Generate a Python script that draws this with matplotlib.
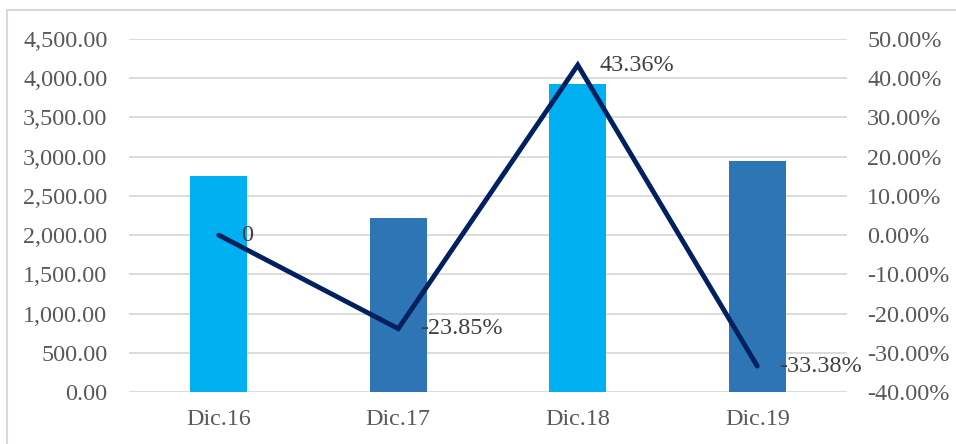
import matplotlib
matplotlib.use("Agg")
import matplotlib.pyplot as plt
from matplotlib.patches import Rectangle
from matplotlib.ticker import FuncFormatter, MultipleLocator

categories = ["Dic.16", "Dic.17", "Dic.18", "Dic.19"]
amounts = [2753, 2214, 3926, 2945]
growth_pct = [0.0, -23.85, 43.36, -33.38]
growth_labels = ["0", "-23.85%", "43.36%", "-33.38%"]
bar_colors = ["#00B0F0", "#2E75B6", "#00B0F0", "#2E75B6"]

plt.rcParams["font.family"] = ["Liberation Serif", "DejaVu Serif"]
FS = 17.4
TICK_COLOR = "#595959"
LABEL_COLOR = "#404040"
GRID_COLOR = "#D9D9D9"

fig = plt.figure(figsize=(9.56, 4.44), dpi=100)

# chart frame (top and left edges visible)
fig.patches.append(Rectangle((7 / 956, -0.1), 1.2, 1 - 10 / 444 + 0.1,
                             transform=fig.transFigure, fill=False,
                             edgecolor="#D9D9D9", linewidth=1.5))

ax = fig.add_axes([129 / 956, 1 - 392 / 444, (847 - 129) / 956, (392 - 39) / 444])
x = range(len(categories))
ax.bar(x, amounts, width=0.32, color=bar_colors, zorder=2)
ax.set_xlim(-0.5, len(categories) - 0.5)
ax.set_ylim(0, 4500)
ax.yaxis.set_major_locator(MultipleLocator(500))
ax.yaxis.set_major_formatter(FuncFormatter(lambda v, p: f"{v:,.2f}"))
ax.set_xticks(list(x))
ax.set_xticklabels(categories)
ax.grid(axis="y", color=GRID_COLOR, linewidth=1.3, zorder=0)
ax.set_axisbelow(True)
for s in ax.spines.values():
    s.set_visible(False)
ax.tick_params(axis="y", length=0, pad=15.5, labelsize=FS, labelcolor=TICK_COLOR)
ax.tick_params(axis="x", length=0, pad=12, labelsize=FS, labelcolor=TICK_COLOR)

ax2 = ax.twinx()
ax2.set_ylim(-40, 50)
ax2.yaxis.set_major_locator(MultipleLocator(10))
ax2.yaxis.set_major_formatter(FuncFormatter(lambda v, p: f"{v:.2f}%"))
for s in ax2.spines.values():
    s.set_visible(False)
ax2.tick_params(axis="y", length=0, pad=14.5, labelsize=FS, labelcolor=TICK_COLOR)
ax2.plot(list(x), growth_pct, color="#002060", linewidth=3.5,
         solid_capstyle="round", solid_joinstyle="miter", zorder=3)
for xi, yi, lab in zip(x, growth_pct, growth_labels):
    ax2.annotate(lab, (xi, yi), xytext=(16, 0), textcoords="offset points",
                 ha="left", va="center", fontsize=FS, color=LABEL_COLOR)

fig.savefig("out.png", dpi=100)
